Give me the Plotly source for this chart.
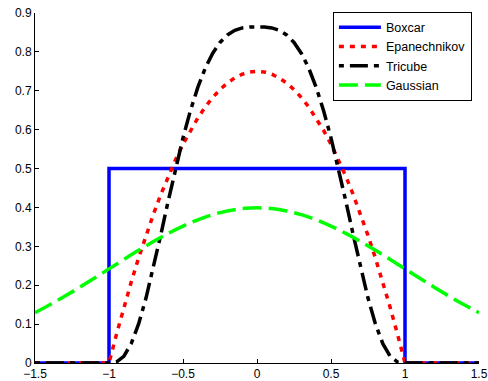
import plotly.graph_objects as go

# Boxcar kernel
box_x = [-1.5, -1.0, -1.0, 1.0, 1.0, 1.5]
box_y = [0.0, 0.0, 0.5, 0.5, 0.0, 0.0]

# shared grid for compact kernels
kern_x = [-1.5, -1.0, -0.95, -0.9, -0.85, -0.8, -0.75, -0.7, -0.65, -0.6, -0.55,
          -0.5, -0.45, -0.4, -0.35, -0.3, -0.25, -0.2, -0.15, -0.1, -0.05, 0.0,
          0.05, 0.1, 0.15, 0.2, 0.25, 0.3, 0.35, 0.4, 0.45, 0.5, 0.55, 0.6,
          0.65, 0.7, 0.75, 0.8, 0.85, 0.9, 0.95, 1.0, 1.5]

epan_y = [0.0, 0.0, 0.0731, 0.1425, 0.2081, 0.27, 0.3281, 0.3825, 0.4331, 0.48, 0.5231,
          0.5625, 0.5981, 0.63, 0.6581, 0.6825, 0.7031, 0.72, 0.7331, 0.7425, 0.7481, 0.75,
          0.7481, 0.7425, 0.7331, 0.72, 0.7031, 0.6825, 0.6581, 0.63, 0.5981, 0.5625, 0.5231, 0.48,
          0.4331, 0.3825, 0.3281, 0.27, 0.2081, 0.1425, 0.0731, 0.0, 0.0]

tric_y = [0.0, 0.0, 0.0025, 0.0172, 0.0497, 0.1004, 0.1670, 0.2451, 0.3298, 0.4165, 0.5006,
          0.5789, 0.6488, 0.7087, 0.7577, 0.7961, 0.8243, 0.8436, 0.8554, 0.8616, 0.8639, 0.8642,
          0.8639, 0.8616, 0.8554, 0.8436, 0.8243, 0.7961, 0.7577, 0.7087, 0.6488, 0.5789, 0.5006, 0.4165,
          0.3298, 0.2451, 0.1670, 0.1004, 0.0497, 0.0172, 0.0025, 0.0, 0.0]

gauss_x = [-1.5, -1.4, -1.3, -1.2, -1.1, -1.0, -0.9, -0.8, -0.7, -0.6, -0.5, -0.4, -0.3,
           -0.2, -0.1, 0.0, 0.1, 0.2, 0.3, 0.4, 0.5, 0.6, 0.7, 0.8, 0.9, 1.0, 1.1, 1.2,
           1.3, 1.4, 1.5]
gauss_y = [0.1295, 0.1497, 0.1714, 0.1942, 0.2179, 0.2420, 0.2661, 0.2897, 0.3123, 0.3332,
           0.3521, 0.3683, 0.3814, 0.3910, 0.3970, 0.3989, 0.3970, 0.3910, 0.3814, 0.3683,
           0.3521, 0.3332, 0.3123, 0.2897, 0.2661, 0.2420, 0.2179, 0.1942, 0.1714, 0.1497, 0.1295]

x_ticks = [-1.5, -1, -0.5, 0, 0.5, 1, 1.5]
x_labels = ["\u22121.5", "\u22121", "\u22120.5", "0", "0.5", "1", "1.5"]
y_ticks = [0, 0.1, 0.2, 0.3, 0.4, 0.5, 0.6, 0.7, 0.8, 0.9]
y_labels = ["0", "0.1", "0.2", "0.3", "0.4", "0.5", "0.6", "0.7", "0.8", "0.9"]

LW = 3.5
fig = go.Figure()
fig.add_trace(go.Scatter(x=box_x, y=box_y, mode="lines", name="Boxcar",
                         line=dict(color="#0000ff", width=LW)))
fig.add_trace(go.Scatter(x=kern_x, y=epan_y, mode="lines", name="Epanechnikov",
                         line=dict(color="#ff0000", width=LW, dash="5px,6px")))
fig.add_trace(go.Scatter(x=kern_x, y=tric_y, mode="lines", name="Tricube",
                         line=dict(color="#000000", width=LW, dash="5px,6px,18px,6px")))
fig.add_trace(go.Scatter(x=gauss_x, y=gauss_y, mode="lines", name="Gaussian",
                         line=dict(color="#00ff00", width=LW, dash="19px,7px", shape="spline")))

axis_common = dict(showgrid=False, zeroline=False, showline=True, linecolor="black",
                   linewidth=1, ticks="inside", ticklen=4, tickcolor="black",
                   tickfont=dict(family="Liberation Sans, Arial, sans-serif", size=12, color="black"),
                   mirror=False, automargin=False, ticklabeloverflow="allow")

fig.update_layout(
    width=488, height=381,
    margin=dict(l=35, r=9, t=13, b=18, autoexpand=False),
    paper_bgcolor="white", plot_bgcolor="white",
    xaxis=dict(range=[-1.5, 1.5], tickvals=x_ticks, ticktext=x_labels, **axis_common),
    yaxis=dict(range=[0, 0.9], tickvals=y_ticks, ticktext=y_labels, **axis_common),
    legend=dict(x=0.984, xanchor="right", y=0.877, yanchor="middle",
                bgcolor="white", bordercolor="black", borderwidth=1,
                font=dict(family="Liberation Sans, Arial, sans-serif", size=12.5, color="black"),
                itemwidth=42, tracegroupgap=0),
    showlegend=True,
)

# remove the default page margin so the 488x381 figure fills the window exactly
fig.write_html("out.html", config={"displayModeBar": False},
               post_script="document.body.style.margin='0';document.body.style.overflow='hidden';")
